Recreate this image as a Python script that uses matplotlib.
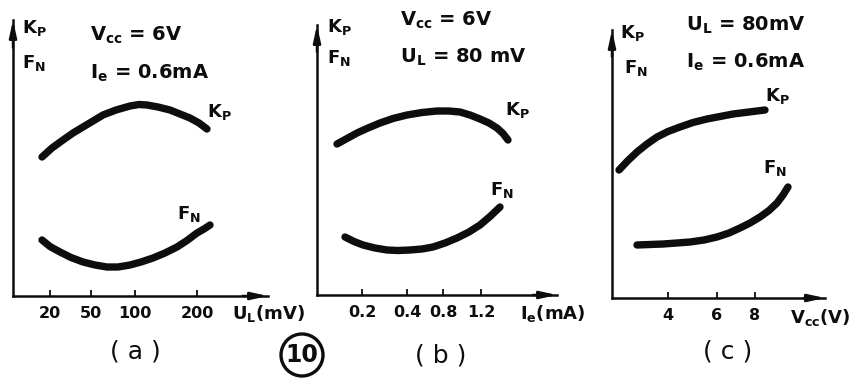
import matplotlib
matplotlib.use("Agg")
import matplotlib.pyplot as plt
from matplotlib.patches import Ellipse

# all values in arbitrary units read from the drawing (the axes have no real scale)
# panel (a): Kp, FN versus U_L
a_ticks = [3.7, 7.8, 12.2, 18.4]
a_ticklabels = ["20", "50", "100", "200"]
a_kp_x = [2.9, 3.9, 5.0, 6.0, 7.0, 8.0, 9.0, 10.3, 11.7, 12.6, 13.4, 14.5, 15.7, 16.7, 17.7, 18.6, 19.4]
a_kp_y = [13.9, 14.8, 15.6, 16.3, 16.9, 17.5, 18.1, 18.6, 19.0, 19.15, 19.1, 18.9, 18.6, 18.2, 17.8, 17.3, 16.7]
a_fn_x = [2.9, 3.7, 4.7, 5.8, 7.0, 8.2, 9.4, 10.5, 11.7, 12.8, 14.0, 15.2, 16.4, 17.4, 18.4, 19.1, 19.7]
a_fn_y = [5.6, 4.95, 4.4, 3.85, 3.4, 3.1, 2.9, 2.9, 3.1, 3.4, 3.8, 4.3, 4.9, 5.55, 6.3, 6.7, 7.1]

# panel (b): Kp, FN versus Ie
b_ticks = [4.5, 9.0, 12.6, 16.4]
b_ticklabels = ["0.2", "0.4", "0.8", "1.2"]
b_kp_x = [2.0, 3.0, 4.0, 5.1, 6.3, 7.6, 9.0, 10.5, 12.0, 13.2, 14.3, 15.3, 16.3, 17.2, 18.0, 18.6, 19.1]
b_kp_y = [15.1, 15.65, 16.2, 16.7, 17.2, 17.65, 18.0, 18.25, 18.4, 18.4, 18.3, 18.0, 17.6, 17.2, 16.7, 16.15, 15.5]
b_fn_x = [2.8, 3.7, 4.6, 5.8, 7.0, 8.1, 9.3, 10.5, 11.6, 12.8, 14.0, 15.2, 16.3, 17.3, 18.3]
b_fn_y = [5.8, 5.35, 5.0, 4.7, 4.5, 4.45, 4.5, 4.6, 4.8, 5.2, 5.7, 6.3, 7.0, 7.85, 8.8]

# panel (c): Kp, FN versus Vcc
c_ticks = [5.6, 10.5, 14.3]
c_ticklabels = ["4", "6", "8"]
c_kp_x = [0.7, 1.6, 2.5, 3.5, 4.5, 5.6, 6.8, 8.1, 9.5, 10.8, 12.1, 13.7, 15.3]
c_kp_y = [12.8, 13.75, 14.6, 15.4, 16.1, 16.65, 17.1, 17.55, 17.9, 18.15, 18.4, 18.6, 18.8]
c_fn_x = [2.5, 3.8, 5.1, 6.5, 7.8, 9.2, 10.5, 11.7, 12.8, 13.8, 14.8, 15.7, 16.5, 17.1, 17.6]
c_fn_y = [5.3, 5.35, 5.4, 5.5, 5.6, 5.8, 6.1, 6.5, 7.0, 7.5, 8.1, 8.75, 9.5, 10.3, 11.1]

W, H = 868, 390
ink = "#0d0d0d"
plt.rcParams["font.family"] = "DejaVu Sans"
plt.rcParams["mathtext.fontset"] = "dejavusans"
plt.rcParams["font.weight"] = "bold"

fig = plt.figure(figsize=(W / 100, H / 100), dpi=100)


def px(x, y):
    return x / W, 1 - y / H


def make_ax(ox, oy, w, h):
    ax = fig.add_axes([ox / W, (H - oy) / H, w / W, h / H])
    ax.set_xlim(0, w / 10)
    ax.set_ylim(0, h / 10)
    ax.patch.set_alpha(0)
    for s in ["top", "right"]:
        ax.spines[s].set_visible(False)
    for s in ["left", "bottom"]:
        ax.spines[s].set_linewidth(1.8)
        ax.spines[s].set_color(ink)
    ax.set_yticks([])
    ax.tick_params(axis="x", direction="in", length=4, width=1.3, pad=7,
                   labelsize=11.5, colors=ink)
    arr = dict(arrowstyle="-|>,head_length=1.0,head_width=0.22",
               color=ink, lw=1.8, shrinkA=0, shrinkB=0)
    ax.annotate("", xy=(1.0, 0), xytext=(0.9, 0), xycoords="axes fraction",
                arrowprops=arr, annotation_clip=False)
    ax.annotate("", xy=(0, 1.0), xytext=(0, 0.9), xycoords="axes fraction",
                arrowprops=arr, annotation_clip=False)
    return ax


def curves(ax, kx, ky, fx, fy, ticks, labels):
    kw = dict(color=ink, lw=5.3, solid_capstyle="round", solid_joinstyle="round")
    ax.plot(kx, ky, **kw)
    ax.plot(fx, fy, **kw)
    ax.set_xticks(ticks, labels, fontweight="bold")


hdr = dict(fontsize=14, color=ink, va="center", ha="left", fontweight="bold")
small = dict(fontsize=13, color=ink, va="center", ha="left", fontweight="bold")
big = dict(fontsize=18, color=ink, va="center", ha="center", fontweight="normal")
KP = r"K$_\mathbf{P}$"
FN = r"F$_\mathbf{N}$"

# (a)
ax1 = make_ax(13, 296, 255, 276)
curves(ax1, a_kp_x, a_kp_y, a_fn_x, a_fn_y, a_ticks, a_ticklabels)
fig.text(*px(22, 28), KP, **small)
fig.text(*px(22, 63), FN, **small)
fig.text(*px(90, 35), r"V$_\mathbf{cc}$ = 6V", **hdr)
fig.text(*px(90, 73), r"I$_\mathbf{e}$ = 0.6mA", **hdr)
fig.text(*px(207, 112), KP, **small)
fig.text(*px(177, 214), FN, **small)
fig.text(*px(232, 313), r"U$_\mathbf{L}$(mV)", **small)
fig.text(*px(135, 352), "( a )", **big)

# (b)
ax2 = make_ax(317, 295, 240, 270)
curves(ax2, b_kp_x, b_kp_y, b_fn_x, b_fn_y, b_ticks, b_ticklabels)
fig.text(*px(327, 27), KP, **small)
fig.text(*px(327, 58), FN, **small)
fig.text(*px(400, 20), r"V$_\mathbf{cc}$ = 6V", **hdr)
fig.text(*px(400, 57), r"U$_\mathbf{L}$ = 80 mV", **hdr)
fig.text(*px(505, 110), KP, **small)
fig.text(*px(490, 190), FN, **small)
fig.text(*px(520, 313), r"I$_\mathbf{e}$(mA)", **small)
fig.text(*px(441, 355), "( b )", **big)

# (c)
ax3 = make_ax(612, 298, 213, 268)
curves(ax3, c_kp_x, c_kp_y, c_fn_x, c_fn_y, c_ticks, c_ticklabels)
fig.text(*px(620, 33), KP, **small)
fig.text(*px(624, 68), FN, **small)
fig.text(*px(686, 25), r"U$_\mathbf{L}$ = 80mV", **hdr)
fig.text(*px(686, 62), r"I$_\mathbf{e}$ = 0.6mA", **hdr)
fig.text(*px(765, 96), KP, **small)
fig.text(*px(763, 168), FN, **small)
fig.text(*px(790, 318), r"V$_\mathbf{cc}$(V)", **small)
fig.text(*px(728, 352), "( c )", **big)

# figure number in a circle
fig.text(*px(302, 355), "10", fontsize=17, color=ink, ha="center", va="center",
         fontweight="bold")
ring = Ellipse(px(302, 355), 42 / W, 42 / H, transform=fig.transFigure,
               fill=False, lw=2.4, color=ink)
fig.patches.append(ring)

fig.savefig("out.png", dpi=100, facecolor="white")
